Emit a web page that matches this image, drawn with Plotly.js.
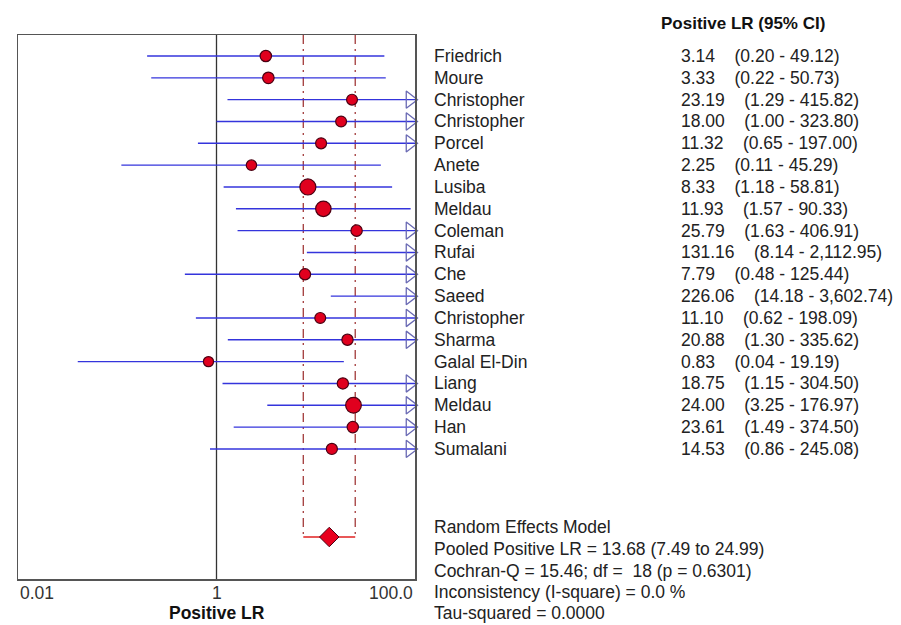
<!DOCTYPE html>
<html>
<head>
<meta charset="utf-8">
<script src="https://cdn.plot.ly/plotly-3.0.1.min.js"></script>
<style>html,body{margin:0;padding:0;background:#fff;}#chart{width:901px;height:625px;}</style>
</head>
<body>
<div id="chart"></div>
<script>
// ---- data ----
const studies = ['Friedrich','Moure','Christopher','Christopher','Porcel','Anete','Lusiba','Meldau','Coleman','Rufai','Che','Saeed','Christopher','Sharma','Galal El-Din','Liang','Meldau','Han','Sumalani'];
const lr    = [3.14, 3.33, 23.19, 18.00, 11.32, 2.25, 8.33, 11.93, 25.79, 131.16, 7.79, 226.06, 11.10, 20.88, 0.83, 18.75, 24.00, 23.61, 14.53];
const lower = [0.20, 0.22, 1.29, 1.00, 0.65, 0.11, 1.18, 1.57, 1.63, 8.14, 0.48, 14.18, 0.62, 1.30, 0.04, 1.15, 3.25, 1.49, 0.86];
const upper = [49.12, 50.73, 415.82, 323.80, 197.00, 45.29, 58.81, 90.33, 406.91, 2112.95, 125.44, 3602.74, 198.09, 335.62, 19.19, 304.50, 176.97, 374.50, 245.08];
const pooled = {lr: 13.68, lo: 7.49, hi: 24.99};
const stats = {q: 15.46, df: 18, p: 0.6301, i2: 0.0, tau2: 0.0000};
const tickVals = [0.01, 1, 100];
const tickLabels = ['0.01', '1', '100.0'];

// ---- layout helpers (pixel geometry) ----
const L = 18, R = 415, T = 35, B = 579;
const px = p => (p - L) / (R - L);
const py = p => (B - p) / (B - T);
const ROW0 = 56, ROWSTEP = 21.83;
const yTop = (T - ROW0) / ROWSTEP, yBot = (B - ROW0) / ROWSTEP;
const pooledRow = (537 - ROW0) / ROWSTEP;
const XMAX = 100;
const ARROW_X = Math.pow(10, 2 - 5 / ((R - L) / 4));

const fmt = v => v.toLocaleString('en-US', {minimumFractionDigits: 2, maximumFractionDigits: 2});
const rows = studies.map((s, i) => i);

// CI lines
const lx = [], ly = [];
rows.forEach(i => { lx.push(lower[i], upper[i], null); ly.push(i, i, null); });
const ciTrace = {x: lx, y: ly, mode: 'lines', line: {color: '#3434dc', width: 1.4}, hoverinfo: 'skip', showlegend: false};

// arrows for upper bounds beyond axis
const ax = [], ay = [];
rows.forEach(i => { if (upper[i] > XMAX) { ax.push(ARROW_X); ay.push(i); } });
const arrowTrace = {x: ax, y: ay, mode: 'markers', cliponaxis: false,
  marker: {symbol: 'triangle-right-open', size: 15, color: '#6a6ab4', opacity: 1, line: {width: 1.3}}, hoverinfo: 'skip', showlegend: false};

// point estimates, sized by inverse-variance weight
const sizes = rows.map(i => 16 * 3.92 / Math.log(upper[i] / lower[i]));
const ptTrace = {x: lr, y: rows, mode: 'markers',
  marker: {symbol: 'circle', size: sizes, color: '#e0001e', opacity: 1, line: {color: '#4a0012', width: 1.2}}, hoverinfo: 'skip', showlegend: false};

// pooled CI dashed lines + bar + diamond
const dashTrace = {x: [pooled.lo, pooled.lo, null, pooled.hi, pooled.hi], y: [yTop, pooledRow, null, yTop, pooledRow],
  mode: 'lines', line: {color: '#a23a3a', width: 1.3, dash: '9px,5px,2px,5px'}, hoverinfo: 'skip', showlegend: false};
const barTrace = {x: [pooled.lo, pooled.hi], y: [pooledRow, pooledRow], mode: 'lines', line: {color: '#e02020', width: 1.3}, hoverinfo: 'skip', showlegend: false};
const diamondTrace = {x: [pooled.lr], y: [pooledRow], mode: 'markers',
  marker: {symbol: 'diamond', size: 15, color: '#e8001e', opacity: 1, line: {color: '#4a0012', width: 1}}, hoverinfo: 'skip', showlegend: false};
const oneTrace = {x: [1, 1], y: [yTop, yBot], mode: 'lines', line: {color: '#333', width: 1.3}, hoverinfo: 'skip', showlegend: false};

const FONT = 'Liberation Sans, Arial, sans-serif';
const TXT = '#222';
const ann = [];
rows.forEach(i => {
  ann.push({xref: 'paper', yref: 'y', x: px(432), y: i, xanchor: 'left', yanchor: 'middle', showarrow: false,
    text: studies[i], font: {family: FONT, size: 17.5, color: TXT}});
  ann.push({xref: 'paper', yref: 'y', x: px(679), y: i, xanchor: 'left', yanchor: 'middle', showarrow: false,
    text: fmt(lr[i]) + '&nbsp;&nbsp;&nbsp;&nbsp;(' + fmt(lower[i]) + ' - ' + fmt(upper[i]) + ')', font: {family: FONT, size: 17.5, color: TXT}});
});
ann.push({xref: 'paper', yref: 'paper', x: px(659), y: py(23), xanchor: 'left', yanchor: 'middle', showarrow: false,
  text: '<b>Positive LR (95% CI)</b>', font: {family: FONT, size: 17, color: '#111'}});
const statLines = [
  'Random Effects Model',
  'Pooled Positive LR = ' + pooled.lr.toFixed(2) + ' (' + pooled.lo.toFixed(2) + ' to ' + pooled.hi.toFixed(2) + ')',
  'Cochran-Q = ' + stats.q.toFixed(2) + '; df = &nbsp;' + stats.df + ' (p = ' + stats.p.toFixed(4) + ')',
  'Inconsistency (I-square) = ' + stats.i2.toFixed(1) + ' %',
  'Tau-squared = ' + stats.tau2.toFixed(4)
];
const statY = [527, 549, 571, 592, 613];
statLines.forEach((t, k) => ann.push({xref: 'paper', yref: 'paper', x: px(432), y: py(statY[k]), xanchor: 'left', yanchor: 'middle',
  showarrow: false, text: t, font: {family: FONT, size: 17.5, color: TXT}}));
const anchors = ['left', 'center', 'right'];
tickVals.forEach((v, k) => ann.push({xref: 'x', yref: 'paper', x: Math.log10(v), y: py(593), xanchor: anchors[k], yanchor: 'middle',
  showarrow: false, text: tickLabels[k], font: {family: FONT, size: 17.5, color: '#333'}}));
ann.push({xref: 'x', yref: 'paper', x: 0, y: py(613), xanchor: 'center', yanchor: 'middle', showarrow: false,
  text: '<b>Positive LR</b>', font: {family: FONT, size: 17.5, color: '#111'}});

const layout = {
  width: 901, height: 625,
  margin: {l: L, r: 901 - R, t: T, b: 625 - B, pad: 0},
  paper_bgcolor: '#fff', plot_bgcolor: '#fff',
  showlegend: false,
  xaxis: {type: 'log', range: [-2, 2], showgrid: false, zeroline: false, showticklabels: false, ticks: '',
    showline: true, mirror: true, linecolor: '#555', linewidth: 1.5},
  yaxis: {range: [yBot, yTop], showgrid: false, zeroline: false, showticklabels: false, ticks: '',
    showline: true, mirror: true, linecolor: '#555', linewidth: 1.5},
  annotations: ann
};

Plotly.newPlot('chart', [oneTrace, dashTrace, barTrace, ciTrace, arrowTrace, ptTrace, diamondTrace], layout, {staticPlot: true, displayModeBar: false});
</script>
</body>
</html>
